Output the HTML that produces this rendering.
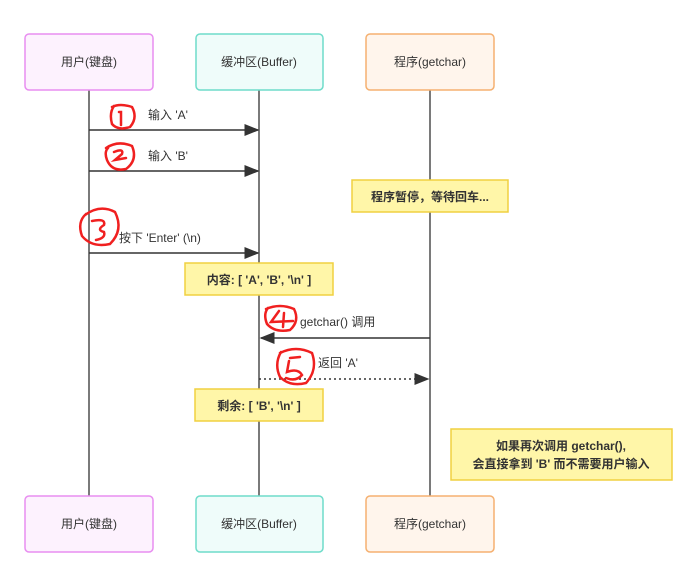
<!DOCTYPE html>
<html><head><meta charset="utf-8"><style>
body{margin:0;background:#fff}
text{font-family:"Liberation Sans","Noto Sans CJK SC",sans-serif;font-size:12px;fill:#333}
</style></head><body>
<svg width="693" height="570" viewBox="0 0 693 570" xmlns="http://www.w3.org/2000/svg">
<defs><marker id="a" markerWidth="10" markerHeight="8" refX="9" refY="4" orient="auto"><path d="M0,0L10,4L0,8z" fill="#333"/></marker></defs>
<g stroke="#333" stroke-width="1.3">
<line x1="89" y1="90" x2="89" y2="496"/><line x1="259" y1="90" x2="259" y2="496"/><line x1="430" y1="90" x2="430" y2="496"/>
</g>
<g stroke-width="1.5">
<rect x="25" y="34" width="128" height="56" rx="4" fill="#fdf2fe" stroke="#e88ef0"/>
<rect x="196" y="34" width="127" height="56" rx="4" fill="#effcfa" stroke="#6fdcca"/>
<rect x="366" y="34" width="128" height="56" rx="4" fill="#fff5ec" stroke="#f5b070"/>
<rect x="25" y="496" width="128" height="56" rx="4" fill="#fdf2fe" stroke="#e88ef0"/>
<rect x="196" y="496" width="127" height="56" rx="4" fill="#effcfa" stroke="#6fdcca"/>
<rect x="366" y="496" width="128" height="56" rx="4" fill="#fff5ec" stroke="#f5b070"/>
</g>
<g text-anchor="middle">
<text x="89" y="66">用户(键盘)</text><text x="259" y="66">缓冲区(Buffer)</text><text x="430" y="66">程序(getchar)</text>
<text x="89" y="528">用户(键盘)</text><text x="259" y="528">缓冲区(Buffer)</text><text x="430" y="528">程序(getchar)</text>
</g>
<g stroke="#333" stroke-width="1.5" fill="none">
<line x1="89" y1="130" x2="258" y2="130" marker-end="url(#a)"/>
<line x1="89" y1="171" x2="258" y2="171" marker-end="url(#a)"/>
<line x1="89" y1="253" x2="258" y2="253" marker-end="url(#a)"/>
<line x1="430" y1="338" x2="261" y2="338" marker-end="url(#a)"/>
<line x1="259" y1="379" x2="428" y2="379" stroke-dasharray="2,3" marker-end="url(#a)"/>
</g>
<text x="148" y="119">输入 'A'</text>
<text x="148" y="160">输入 'B'</text>
<text x="119" y="242">按下 'Enter' (\n)</text>
<text x="300" y="326">getchar() 调用</text>
<text x="318" y="367">返回 'A'</text>
<g stroke="#f0d040" stroke-width="1.5" fill="#fff6a8">
<rect x="352" y="180" width="156" height="32"/>
<rect x="185" y="263" width="148" height="32"/>
<rect x="195" y="389" width="128" height="32"/>
<rect x="451" y="429" width="221" height="51"/>
</g>
<g font-weight="bold" text-anchor="middle">
<text x="430" y="201" style="font-weight:bold">程序暂停，等待回车...</text>
<text x="259" y="284" style="font-weight:bold">内容: [ 'A', 'B', '\n' ]</text>
<text x="259" y="410" style="font-weight:bold">剩余: [ 'B', '\n' ]</text>
<text x="561" y="450" style="font-weight:bold">如果再次调用 getchar(),</text>
<text x="561" y="468" style="font-weight:bold">会直接拿到 'B' 而不需要用户输入</text>
</g>
<g stroke="#f02020" stroke-width="2.5" fill="none" stroke-linecap="round">
<path d="M112,107 Q120,103 132,107 Q138,118 130,127 Q118,131 112,124 Q109,113 114,106"/>
<path d="M119,112 L121,112 L121,125"/>
<path d="M106,148 Q118,140 132,146 Q138,160 126,169 Q112,172 107,160 Q104,152 108,148"/>
<path d="M114,152 Q124,148 122,154 L115,160 L126,158"/>
<path d="M85,215 Q100,204 115,212 Q124,230 110,244 Q92,248 82,236 Q77,222 86,214"/>
<path d="M92,221 Q106,218 104,225 Q96,230 104,232 Q106,238 96,240"/>
<path d="M266,309 Q280,303 294,309 Q300,321 290,330 Q275,333 267,324 Q263,314 268,308"/>
<path d="M279,311 L271,322 L293,321 M284,313 L283,327"/>
<path d="M280,353 Q296,345 312,353 Q318,370 306,383 Q290,387 280,377 Q274,364 281,352"/>
<path d="M290,358 L300,357 M289,361 L287,372 Q298,368 302,375 Q296,382 286,378"/>
</g>
</svg>
</body></html>
